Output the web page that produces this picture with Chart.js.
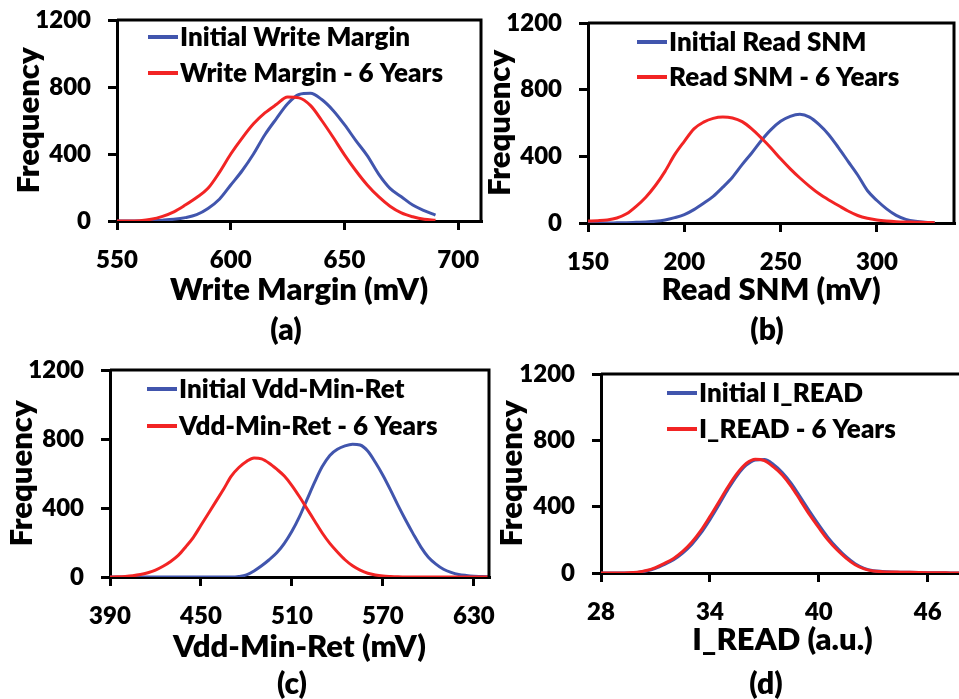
<!DOCTYPE html>
<html>
<head>
<meta charset="utf-8">
<title>Aging distributions</title>
<script src="https://cdn.jsdelivr.net/npm/chart.js@4.4.1/dist/chart.umd.min.js"></script>
<style>
  html, body { margin: 0; padding: 0; background: #fff; overflow: hidden; }
  body { width: 959px; height: 699px; position: relative; }
  .panel { position: absolute; }
  .cap {
    position: absolute;
    font: 800 30px Lato, sans-serif;
    color: #000;
    transform: translate(-50%, -50%);
    white-space: nowrap;
  }
</style>
</head>
<body>

<div class="panel" style="left:0;top:0;width:490px;height:310px"><canvas id="chartA"></canvas></div>
<div class="panel" style="left:470px;top:0;width:489px;height:310px"><canvas id="chartB"></canvas></div>
<div class="panel" style="left:0;top:340px;width:500px;height:330px"><canvas id="chartC"></canvas></div>
<div class="panel" style="left:470px;top:340px;width:504px;height:330px"><canvas id="chartD"></canvas></div>

<div class="cap" style="left:286px;top:328px">(a)</div>
<div class="cap" style="left:767px;top:328px">(b)</div>
<div class="cap" style="left:292px;top:682px">(c)</div>
<div class="cap" style="left:766px;top:682px">(d)</div>

<script>
// --- data ---

// common y axis
const freqTicks = [0, 400, 800, 1200];

// (a) write margin, mV
const wmX = [550, 555, 560, 565, 570, 575, 580, 585, 590, 595, 600, 605, 610, 615, 620,
             625, 630, 635, 640, 645, 650, 655, 660, 665, 670, 675, 680, 685, 690];
const wmInitial = [0, 0, 0, 2, 5, 10, 20, 38, 75, 130, 215, 300, 400, 515, 610,
                   700, 755, 762, 725, 660, 575, 480, 390, 280, 195, 145, 95, 62, 35];
const wm6Years = [0, 0, 2, 10, 28, 55, 95, 140, 195, 290, 400, 495, 580, 645, 695,
                  740, 735, 690, 600, 500, 395, 300, 215, 145, 88, 48, 25, 10, 4];
const wmTicks = [550, 600, 650, 700];

// (b) read SNM, mV
const rsnmX = [150, 155, 160, 165, 170, 175, 180, 185, 190, 195, 200, 205, 210, 215, 220,
               225, 230, 235, 240, 245, 250, 255, 260, 265, 270, 275, 280, 285, 290, 295,
               300, 305, 310, 315, 320, 325, 330];
const rsnmInitial = [0, 0, 0, 1, 2, 4, 6, 10, 18, 32, 50, 80, 118, 160, 215,
                     275, 350, 420, 495, 560, 610, 640, 652, 635, 590, 530, 452, 370, 288, 195,
                     135, 85, 46, 22, 10, 4, 2];
const rsnm6Years = [12, 14, 18, 30, 55, 100, 155, 225, 310, 410, 490, 565, 605, 628, 636,
                    630, 608, 565, 510, 450, 385, 325, 270, 220, 175, 138, 105, 72, 45, 28,
                    18, 12, 8, 6, 5, 3, 2];
const rsnmTicks = [150, 200, 250, 300];

// (c) Vdd-Min-Ret, mV
const vddX = [390, 395, 400, 405, 410, 415, 420, 425, 430, 435, 440, 445, 450, 455, 460,
              465, 470, 475, 480, 485, 490, 495, 500, 505, 510, 515, 520, 525, 530, 535,
              540, 545, 550, 555, 560, 565, 570, 575, 580, 585, 590, 595, 600, 605, 610,
              615, 620, 625, 630, 635, 640];
const vddInitial = [0, 0, 0, 0, 0, 0, 0, 0, 0, 0, 0, 0, 0, 0, 0,
                    0, 0, 3, 12, 35, 65, 100, 140, 195, 265, 350, 450, 550, 640, 705,
                    740, 760, 770, 765, 730, 665, 590, 505, 415, 330, 250, 175, 115, 75, 45,
                    27, 15, 9, 5, 3, 1];
const vdd6Years = [0, 1, 3, 7, 14, 25, 40, 62, 90, 125, 175, 230, 300, 370, 440,
                   510, 585, 635, 670, 690, 685, 660, 625, 585, 530, 465, 395, 325, 255, 195,
                   145, 100, 65, 40, 22, 12, 6, 3, 1, 0, 0, 0, 0, 0, 0,
                   0, 0, 0, 0, 0, 0];
const vddTicks = [390, 450, 510, 570, 630];

// (d) I_READ, a.u.
const ireadX = [28, 28.5, 29, 29.5, 30, 30.5, 31, 31.5, 32, 32.5, 33, 33.5, 34, 34.5,
                35, 35.5, 36, 36.5, 37, 37.5, 38, 38.5, 39, 39.5, 40, 40.5, 41, 41.5,
                42, 42.5, 43, 43.5, 44, 44.5, 45, 45.5, 46, 46.5, 47, 47.5, 48];
const ireadInitial = [0, 0, 0, 0, 3, 12, 28, 52, 80, 120, 172, 240, 322, 412,
                      505, 588, 650, 682, 684, 655, 605, 538, 455, 370, 290, 215, 152, 98,
                      56, 28, 14, 9, 6, 5, 4, 3, 2, 1, 1, 0, 0];
const iread6Years = [0, 0, 0, 1, 5, 15, 33, 58, 88, 130, 185, 255, 340, 430,
                     520, 600, 660, 686, 678, 640, 590, 520, 435, 350, 273, 200, 140, 90,
                     50, 25, 12, 8, 6, 5, 4, 3, 2, 1, 1, 0, 0];
const ireadTicks = [28, 34, 40, 46];

// --- styling ---
const BLUE = '#4155ad';
const RED = '#f22424';
const FONT = 'Lato, "Open Sans", sans-serif';
Chart.defaults.font.family = FONT;
Chart.defaults.font.weight = 800;
Chart.defaults.color = '#000';

// top / right frame of the plot area + legend drawn inside the plot
const frameLegend = {
    id: 'frameLegend',
    afterDraw(chart, args, opts) {
        const { ctx, chartArea: a } = chart;
        ctx.save();
        ctx.strokeStyle = '#000';
        ctx.lineWidth = 3;
        ctx.beginPath();
        ctx.moveTo(a.left, a.top);
        ctx.lineTo(a.right, a.top);
        ctx.lineTo(a.right, a.bottom);
        ctx.stroke();

        ctx.font = '800 26px ' + FONT;
        ctx.textBaseline = 'middle';
        ctx.textAlign = 'left';
        chart.data.datasets.forEach((ds, i) => {
            const x = a.left + opts.dx;
            const y = a.top + opts.dy + i * opts.gap;
            ctx.strokeStyle = ds.borderColor;
            ctx.lineWidth = 4;
            ctx.beginPath();
            ctx.moveTo(x, y);
            ctx.lineTo(x + 30, y);
            ctx.stroke();
            ctx.fillStyle = '#000';
            ctx.fillText(ds.label, x + 32, y + 1);
        });
        ctx.restore();
    }
};

function pts(xs, ys) {
    return xs.map((x, i) => ({ x: x, y: ys[i] }));
}

function makeChart(id, cfg) {
    const ctx = document.getElementById(id);
    return new Chart(ctx, {
        type: 'line',
        data: {
            datasets: [{
                label: cfg.labels[0],
                data: pts(cfg.xs, cfg.initial),
                borderColor: BLUE,
                borderWidth: 3,
                pointRadius: 0,
                cubicInterpolationMode: 'monotone',
                order: 1
            }, {
                label: cfg.labels[1],
                data: pts(cfg.xs, cfg.aged),
                borderColor: RED,
                borderWidth: 3,
                pointRadius: 0,
                cubicInterpolationMode: 'monotone',
                order: 0
            }]
        },
        options: {
            responsive: true,
            maintainAspectRatio: false,
            animation: false,
            layout: { padding: cfg.padding },
            plugins: {
                legend: { display: false },
                tooltip: { enabled: false },
                frameLegend: cfg.legend
            },
            scales: {
                x: {
                    type: 'linear',
                    min: cfg.min,
                    max: cfg.max,
                    afterBuildTicks: s => { s.ticks = cfg.ticks.map(v => ({ value: v })); },
                    afterFit: s => { s.height = cfg.xHeight; s.paddingLeft = 0; s.paddingRight = 0; },
                    grid: { drawOnChartArea: false, drawTicks: true, tickLength: 9, color: '#000', lineWidth: 3 },
                    border: { color: '#000', width: 3 },
                    ticks: { color: '#000', font: { size: 24, weight: 800 }, padding: 16, maxRotation: 0,
                             callback: v => String(v) },
                    title: { display: true, text: cfg.xTitle, color: '#000',
                             font: { size: 31, weight: 800 }, padding: { top: 0, bottom: cfg.xTitlePad } }
                },
                y: {
                    min: 0,
                    max: 1200,
                    afterBuildTicks: s => { s.ticks = freqTicks.map(v => ({ value: v })); },
                    // keep the plot box where the reference has it (labels may overhang)
                    afterFit: s => { s.width = cfg.yWidth; s.paddingTop = 0; s.paddingBottom = 0; },
                    grid: { drawOnChartArea: false, drawTicks: true, tickLength: 9, color: '#000', lineWidth: 3 },
                    border: { color: '#000', width: 3 },
                    ticks: { color: '#000', font: { size: 24, weight: 800 }, padding: 17,
                             callback: v => String(v) },
                    title: { display: true, text: 'Frequency', color: '#000',
                             font: { size: 31, weight: 800 }, padding: { top: cfg.yTitlePad, bottom: 0 } }
                }
            }
        },
        plugins: [frameLegend]
    });
}

makeChart('chartA', {
    xs: wmX, initial: wmInitial, aged: wm6Years, ticks: wmTicks,
    labels: ['Initial Write Margin', 'Write Margin - 6 Years'],
    xTitle: 'Write Margin (mV)', min: 550, max: 710,
    padding: { top: 20, right: 9, bottom: 0, left: 0 },
    yWidth: 117, xHeight: 89, yTitlePad: 10, xTitlePad: 1,
    legend: { dx: 31, dy: 17, gap: 36 }
});

makeChart('chartB', {
    xs: rsnmX, initial: rsnmInitial, aged: rsnm6Years, ticks: rsnmTicks,
    labels: ['Initial Read SNM', 'Read SNM - 6 Years'],
    xTitle: 'Read SNM (mV)', min: 150, max: 340,
    padding: { top: 23, right: 5, bottom: 0, left: 0 },
    yWidth: 118, xHeight: 87, yTitlePad: 11, xTitlePad: 1,
    legend: { dx: 49, dy: 19, gap: 35 }
});

makeChart('chartC', {
    xs: vddX, initial: vddInitial, aged: vdd6Years, ticks: vddTicks,
    labels: ['Initial Vdd-Min-Ret', 'Vdd-Min-Ret - 6 Years'],
    xTitle: 'Vdd-Min-Ret (mV)', min: 390, max: 640,
    padding: { top: 30, right: 11, bottom: 0, left: 0 },
    yWidth: 110, xHeight: 93, yTitlePad: 3, xTitlePad: 4,
    legend: { dx: 37, dy: 19, gap: 37 }
});

makeChart('chartD', {
    xs: ireadX, initial: ireadInitial, aged: iread6Years, ticks: ireadTicks,
    labels: ['Initial I_READ', 'I_READ - 6 Years'],
    xTitle: 'I_READ (a.u.)', min: 28, max: 48,
    padding: { top: 34, right: 10, bottom: 0, left: 0 },
    yWidth: 131, xHeight: 97, yTitlePad: 23, xTitlePad: 11,
    legend: { dx: 66, dy: 19, gap: 36 }
});
</script>
</body>
</html>
